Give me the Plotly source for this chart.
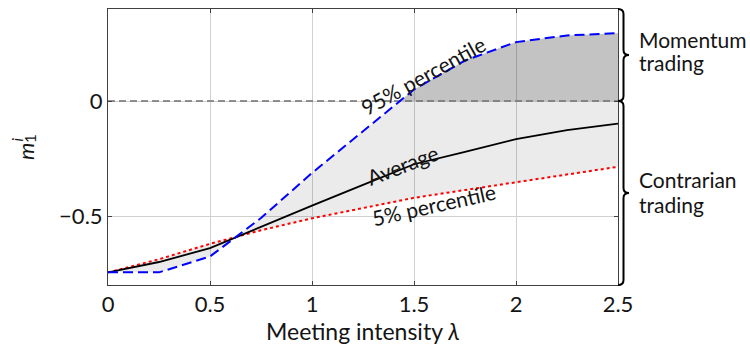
import plotly.graph_objects as go

# Meeting intensity grid and the three summary curves of m_1^i
lam = [0.0, 0.25, 0.5, 0.75, 1.0, 1.25, 1.5, 1.75, 2.0, 2.25, 2.5]
p95 = [-0.745, -0.745, -0.676, -0.509, -0.313, -0.13, 0.05, 0.176, 0.256, 0.285, 0.295]
avg = [-0.745, -0.70, -0.64, -0.546, -0.455, -0.365, -0.275, -0.221, -0.166, -0.127, -0.098]
p05 = [-0.745, -0.688, -0.621, -0.562, -0.51, -0.466, -0.421, -0.387, -0.353, -0.32, -0.286]

x_ticks = [0, 0.5, 1, 1.5, 2, 2.5]
y_ticks = [-0.5, 0]
X_RANGE = [0, 2.5]
Y_RANGE = [-0.8, 0.4]

FONT = "Lato"
FS = 21
INK = "#141414"

# region where the 95% percentile is above zero (momentum trading)
i = next(k for k, v in enumerate(p95) if v > 0)
xc = lam[i - 1] + (0 - p95[i - 1]) * (lam[i] - lam[i - 1]) / (p95[i] - p95[i - 1])
pos_x = [xc] + lam[i:]
pos_y = [0.0] + p95[i:]
poly_x = pos_x + pos_x[::-1]
poly_y = pos_y + [0.0] * len(pos_x)

fig = go.Figure()

# band between 5% and 95% percentiles
fig.add_trace(go.Scatter(x=lam, y=p05, mode="lines", line=dict(width=0),
                         hoverinfo="skip", showlegend=False))
fig.add_trace(go.Scatter(x=lam, y=p95, mode="lines", line=dict(width=0),
                         fill="tonexty", fillcolor="rgba(0,0,0,0.08)",
                         hoverinfo="skip", showlegend=False))
# darker band where m_1^i > 0
fig.add_trace(go.Scatter(x=poly_x, y=poly_y, mode="lines", line=dict(width=0),
                         fill="toself", fillcolor="rgba(0,0,0,0.17)",
                         hoverinfo="skip", showlegend=False))
# zero reference line
fig.add_trace(go.Scatter(x=X_RANGE, y=[0, 0], mode="lines",
                         line=dict(color="#707070", width=1.6, dash="7px,4px"),
                         hoverinfo="skip", showlegend=False))
# curves
fig.add_trace(go.Scatter(x=lam, y=p05, mode="lines", name="5% percentile",
                         line=dict(color="#ff0000", width=2, dash="dot"), showlegend=False))
fig.add_trace(go.Scatter(x=lam, y=avg, mode="lines", name="Average",
                         line=dict(color="#000000", width=1.8), showlegend=False))
fig.add_trace(go.Scatter(x=lam, y=p95, mode="lines", name="95% percentile",
                         line=dict(color="#0000ff", width=2, dash="10px,5px"), showlegend=False))

axis_common = dict(showline=True, linecolor="#404040", linewidth=1, mirror="ticks",
                   ticks="inside", ticklen=4, tickcolor="#404040",
                   showgrid=True, gridcolor="#d0d0d0", gridwidth=1, zeroline=False,
                   tickfont=dict(family=FONT, size=22, color=INK))
fig.update_xaxes(range=X_RANGE, tickvals=x_ticks, **axis_common)
fig.update_yaxes(range=Y_RANGE, tickvals=y_ticks, **axis_common)

L, R, T, B = 108, 132, 9, 61
W, H = 750, 346
pw, ph = W - L - R, H - T - B


def ypaper(v):
    return (v - Y_RANGE[0]) / (Y_RANGE[1] - Y_RANGE[0])


def ypx(py):
    """Paper y from a distance in pixels below the top of the figure."""
    return (H - B - py) / ph


def xpx(px):
    """Paper x from a distance in pixels from the left of the figure."""
    return (px - L) / pw


def brace(v_lo, v_hi, width_px=11, r_px=5):
    """Right-facing curly brace spanning v_lo..v_hi (data units) next to the plot."""
    x0 = 1.0
    xm = 1.0 + (width_px / 2) / pw
    xt = 1.0 + width_px / pw
    y0, y1 = ypaper(v_lo), ypaper(v_hi)
    ym = (y0 + y1) / 2
    r = r_px / ph
    return (f"M {x0},{y1} Q {xm},{y1} {xm},{y1 - r} L {xm},{ym + r} "
            f"Q {xm},{ym} {xt},{ym} Q {xm},{ym} {xm},{ym - r} "
            f"L {xm},{y0 + r} Q {xm},{y0} {x0},{y0}")


shapes = [
    dict(type="path", xref="paper", yref="paper", path=brace(0, Y_RANGE[1]),
         line=dict(color="black", width=2)),
    dict(type="path", xref="paper", yref="paper", path=brace(Y_RANGE[0], 0),
         line=dict(color="black", width=2)),
]

f = dict(family=FONT, size=FS, color=INK)
fs_small = dict(family=FONT, size=15, color=INK)
side_x = xpx(637)


def side(text, py):
    return dict(x=side_x, y=ypx(py), xref="paper", yref="paper", text=text,
                xanchor="left", yanchor="middle", showarrow=False, font=f)


def ylab(text, px, py, font):
    return dict(x=xpx(px), y=ypx(py), xref="paper", yref="paper", text=text,
                textangle=-90, xanchor="center", yanchor="middle",
                showarrow=False, font=font)


annotations = [
    dict(x=1.544, y=0.111, xref="x", yref="y", text="95% percentile", textangle=-29,
         showarrow=False, font=f),
    dict(x=1.445, y=-0.275, xref="x", yref="y", text="Average", textangle=-21,
         showarrow=False, font=f),
    dict(x=1.598, y=-0.452, xref="x", yref="y", text="5% percentile", textangle=-12.5,
         showarrow=False, font=f),
    side("Momentum", 39),
    side("trading", 63),
    side("Contrarian", 179),
    side("trading", 204),
    dict(x=0.5, y=ypx(331), xref="paper", yref="paper",
         text="Meeting intensity <i>λ</i>", showarrow=False,
         font=dict(family=FONT, size=23, color=INK),
         xanchor="center", yanchor="middle"),
    # y-axis label m_1^i
    ylab("<i>m</i>", 25, 152, dict(family=FONT, size=22, color=INK)),
    ylab("1", 30, 139, fs_small),
    ylab("<i>i</i>", 16, 139.5, fs_small),
]

fig.update_layout(width=W, height=H, margin=dict(l=L, r=R, t=T, b=B),
                  plot_bgcolor="white", paper_bgcolor="white",
                  shapes=shapes, annotations=annotations, showlegend=False)

fig.write_html("out.html")
